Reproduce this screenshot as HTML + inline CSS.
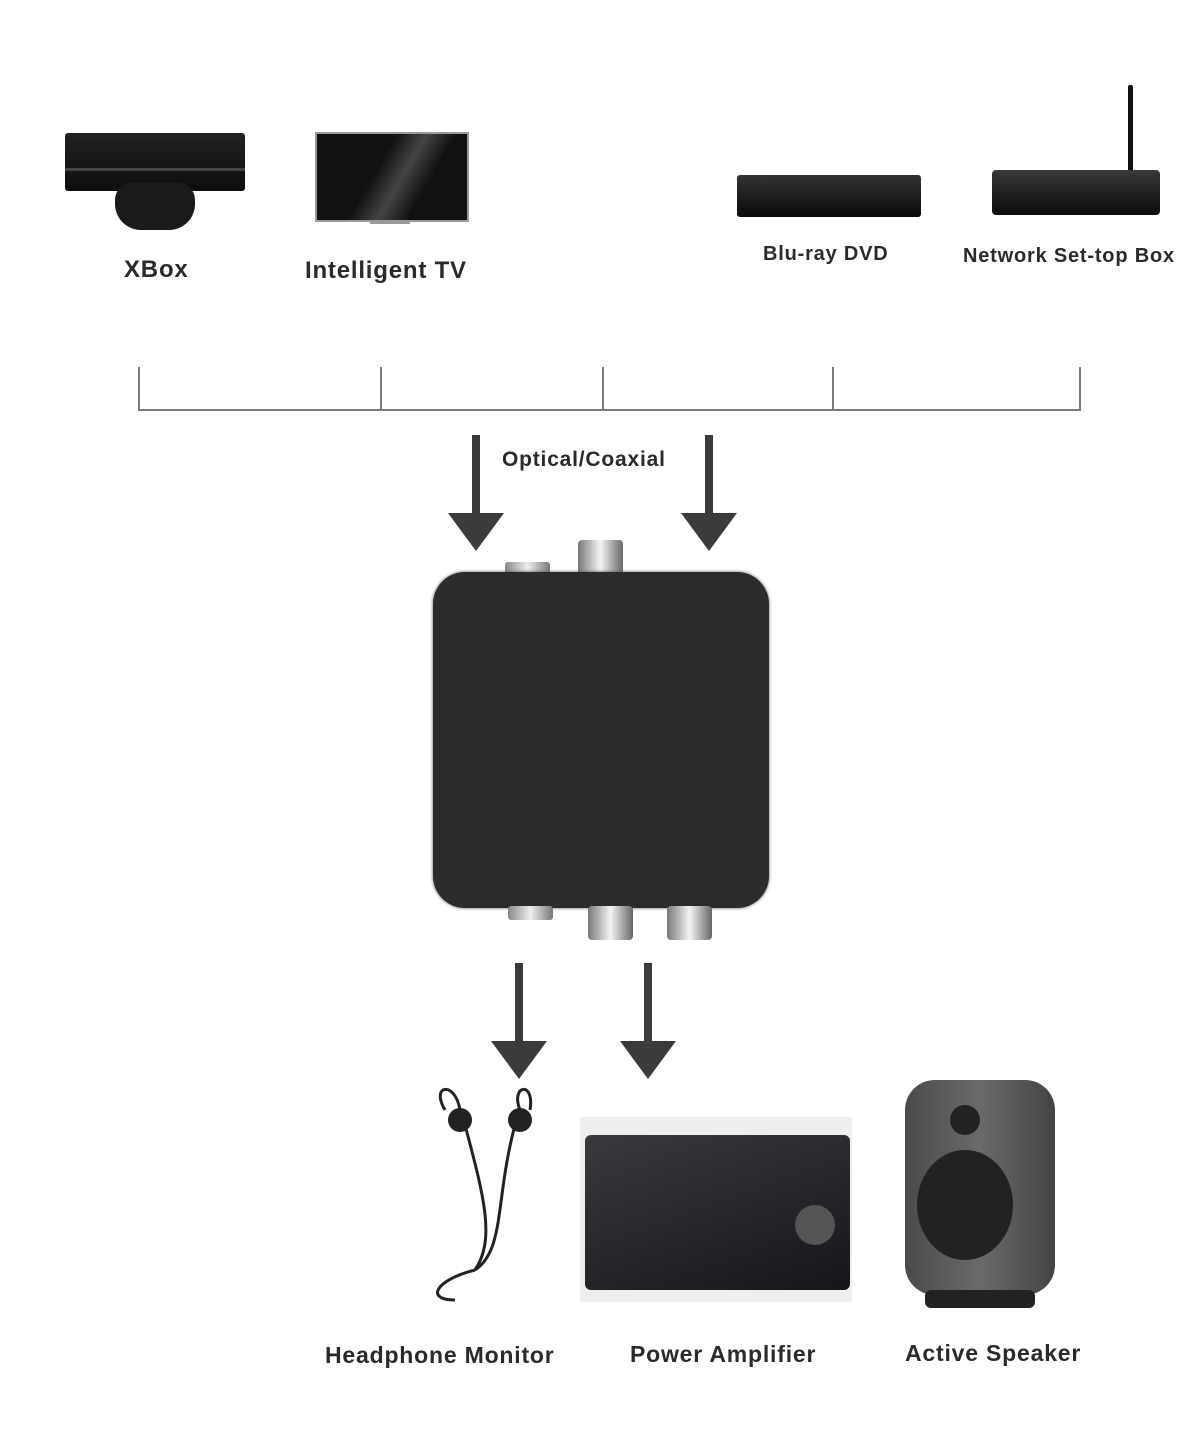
<!DOCTYPE html>
<html><head><meta charset="utf-8"><style>
body{margin:0;width:1200px;height:1432px;background:#fff;position:relative;overflow:hidden;font-family:"Liberation Sans",sans-serif;color:#222}
.a{position:absolute}
.t{position:absolute;white-space:nowrap;letter-spacing:0.8px;font-weight:bold;color:#2a2a2a}
.line{position:absolute;background:#7a7a7a}
.sh{position:absolute;background:#3b3b3b}
.hd{position:absolute;width:0;height:0;border-left:28px solid transparent;border-right:28px solid transparent;border-top:38px solid #3b3b3b}
</style></head><body>
<!-- XBox -->
<div class="a" style="left:65px;top:133px;width:180px;height:58px;background:linear-gradient(#222,#0d0d0d);border-radius:3px"></div>
<div class="a" style="left:65px;top:168px;width:180px;height:3px;background:#444"></div>
<div class="a" style="left:115px;top:182px;width:80px;height:48px;background:#1a1a1a;border-radius:18px 18px 26px 26px"></div>
<!-- TV -->
<div class="a" style="left:315px;top:132px;width:150px;height:86px;background:linear-gradient(120deg,#111 40%,#444 55%,#111 70%);border:2px solid #999"></div>
<div class="a" style="left:370px;top:220px;width:40px;height:4px;background:#999"></div>
<!-- Blu-ray -->
<div class="a" style="left:737px;top:175px;width:184px;height:42px;background:linear-gradient(#333,#0a0a0a);border-radius:3px"></div>
<!-- Set-top -->
<div class="a" style="left:1128px;top:85px;width:5px;height:95px;background:#111;border-radius:2px"></div>
<div class="a" style="left:992px;top:170px;width:168px;height:45px;background:linear-gradient(#3a3a3a,#0a0a0a);border-radius:4px"></div>

<div class="t" style="left:124px;top:256px;font-size:24px">XBox</div>
<div class="t" style="left:305px;top:257px;font-size:24px">Intelligent TV</div>
<div class="t" style="left:763px;top:243px;font-size:20px">Blu-ray DVD</div>
<div class="t" style="left:963px;top:245px;font-size:20px">Network Set-top Box</div>

<!-- bracket -->
<div class="line" style="left:138px;top:409px;width:943px;height:2px"></div>
<div class="line" style="left:138px;top:367px;width:2px;height:43px"></div>
<div class="line" style="left:380px;top:367px;width:2px;height:43px"></div>
<div class="line" style="left:602px;top:367px;width:2px;height:43px"></div>
<div class="line" style="left:832px;top:367px;width:2px;height:43px"></div>
<div class="line" style="left:1079px;top:367px;width:2px;height:43px"></div>

<!-- top arrows -->
<div class="sh" style="left:472px;top:435px;width:8px;height:80px"></div>
<div class="hd" style="left:448px;top:513px"></div>
<div class="sh" style="left:705px;top:435px;width:8px;height:80px"></div>
<div class="hd" style="left:681px;top:513px"></div>
<div class="t" style="left:502px;top:448px;font-size:21px">Optical/Coaxial</div>

<!-- device -->
<div class="a" style="left:505px;top:562px;width:45px;height:14px;background:linear-gradient(90deg,#888,#eee,#777);border-radius:3px"></div>
<div class="a" style="left:578px;top:540px;width:45px;height:36px;background:linear-gradient(90deg,#777,#f4f4f4,#666);border-radius:4px"></div>
<div class="a" style="left:433px;top:572px;width:336px;height:336px;background:#2b2b2b;border-radius:32px;box-shadow:0 0 3px #555"></div>
<div class="a" style="left:508px;top:906px;width:45px;height:14px;background:linear-gradient(90deg,#888,#eee,#777);border-radius:3px"></div>
<div class="a" style="left:588px;top:906px;width:45px;height:34px;background:linear-gradient(90deg,#777,#f4f4f4,#666);border-radius:4px"></div>
<div class="a" style="left:667px;top:906px;width:45px;height:34px;background:linear-gradient(90deg,#777,#f4f4f4,#666);border-radius:4px"></div>

<!-- bottom arrows -->
<div class="sh" style="left:515px;top:963px;width:8px;height:80px"></div>
<div class="hd" style="left:491px;top:1041px"></div>
<div class="sh" style="left:644px;top:963px;width:8px;height:80px"></div>
<div class="hd" style="left:620px;top:1041px"></div>

<!-- headphones -->
<svg class="a" style="left:415px;top:1080px" width="130" height="225">
<path d="M30 30 C15 5 40 0 45 30 M105 30 C95 5 120 0 115 30 M50 45 C70 120 80 160 60 190 M100 45 C80 120 90 170 60 190 M60 190 C20 200 10 220 40 220" stroke="#222" stroke-width="3" fill="none"/>
<circle cx="45" cy="40" r="12" fill="#222"/><circle cx="105" cy="40" r="12" fill="#222"/>
</svg>
<!-- amplifier -->
<div class="a" style="left:580px;top:1117px;width:272px;height:185px;background:#eee"></div>
<div class="a" style="left:585px;top:1135px;width:265px;height:155px;background:linear-gradient(160deg,#3a3a3e,#15151a);border-radius:6px"></div>
<div class="a" style="left:795px;top:1205px;width:40px;height:40px;background:#555;border-radius:50%"></div>
<!-- speaker -->
<div class="a" style="left:905px;top:1080px;width:150px;height:215px;background:linear-gradient(90deg,#4a4a4a,#6a6a6a,#444);border-radius:30px"></div>
<div class="a" style="left:950px;top:1105px;width:30px;height:30px;background:#222;border-radius:50%"></div>
<div class="a" style="left:917px;top:1150px;width:96px;height:110px;background:#222;border-radius:50%"></div>
<div class="a" style="left:925px;top:1290px;width:110px;height:18px;background:#222;border-radius:6px"></div>

<div class="t" style="left:325px;top:1342px;font-size:23px">Headphone Monitor</div>
<div class="t" style="left:630px;top:1341px;font-size:23px">Power Amplifier</div>
<div class="t" style="left:905px;top:1340px;font-size:23px">Active Speaker</div>
</body></html>
